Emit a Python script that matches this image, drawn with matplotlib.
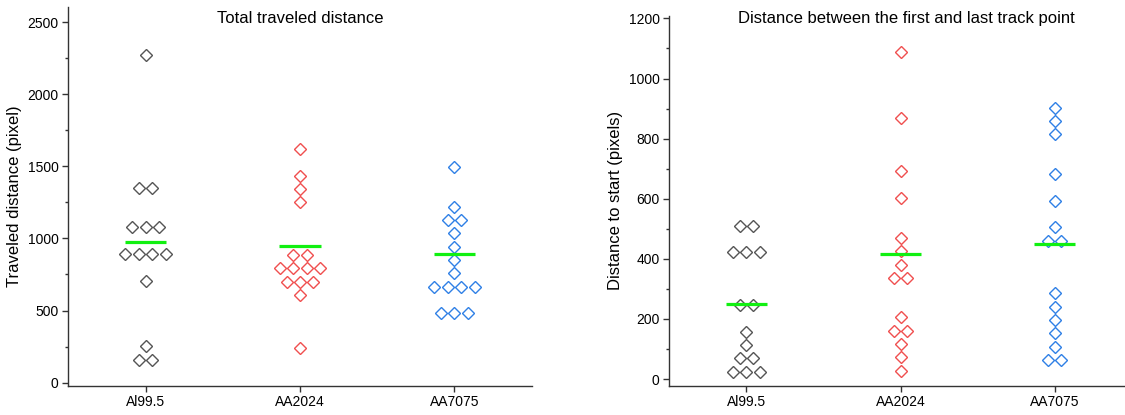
import numpy as np
import matplotlib
matplotlib.use("Agg")
import matplotlib.pyplot as plt
from matplotlib.ticker import MultipleLocator

plt.rcParams['font.family'] = ['Liberation Sans', 'DejaVu Sans']

alloys = ["Al99.5", "AA2024", "AA7075"]
colors = ["#555555", "#f04f4f", "#2f80e6"]
mean_color = "#11f011"

# Total traveled distance (pixel)
travel_al995 = [2274, 1350, 1350, 1076, 1076, 1076, 891, 891, 891, 891, 706, 254, 157, 157]
travel_aa2024 = [1618, 1434, 1341, 1249, 884, 884, 792, 792, 792, 792, 699, 699, 699, 607, 238]
travel_aa7075 = [1496, 1219, 1127, 1127, 1035, 942, 850, 758, 665, 665, 665, 665, 481, 481, 481]
travel_means = [974, 947, 889]

# Distance between first and last track point (pixels)
start_al995 = [510, 510, 423, 423, 423, 246, 246, 157, 113, 69, 69, 24, 24, 24]
start_aa2024 = [1089, 867, 692, 603, 470, 426, 381, 337, 337, 205, 161, 161, 116, 72, 28]
start_aa7075 = [902, 858, 814, 681, 592, 506, 461, 461, 285, 241, 196, 152, 107, 63, 63]
start_means = [250, 416, 448]

STEP = 0.0866      # horizontal spacing of points sharing a value
HALF_MEAN = 0.134  # half width of the mean bar


def swarm(ax, groups, means):
    for i, (vals, col) in enumerate(zip(groups, colors)):
        vals = np.asarray(vals, dtype=float)
        xs = np.empty_like(vals)
        for v in np.unique(vals):
            idx = np.where(vals == v)[0]
            n = len(idx)
            xs[idx] = i + (np.arange(n) - (n - 1) / 2) * STEP
        ax.plot(xs, vals, linestyle="none", marker="D", markersize=6.6,
                markerfacecolor="none", markeredgecolor=col, markeredgewidth=1.0,
                zorder=3)
        ax.plot([i - HALF_MEAN, i + HALF_MEAN], [means[i], means[i]],
                color=mean_color, linewidth=2.3, solid_capstyle="butt", zorder=4)


def style(ax, ylabel, major, minor):
    for s in ["top", "right"]:
        ax.spines[s].set_visible(False)
    for s in ["left", "bottom"]:
        ax.spines[s].set_color("#333333")
        ax.spines[s].set_linewidth(1.0)
    ax.set_xlim(-0.5, 2.5)
    ax.set_xticks(range(3))
    ax.set_xticklabels(alloys)
    ax.yaxis.set_major_locator(MultipleLocator(major))
    ax.yaxis.set_minor_locator(MultipleLocator(minor))
    ax.tick_params(axis="both", which="major", direction="out", length=4,
                   width=1.0, color="#333333", labelsize=10, pad=3)
    ax.tick_params(axis="y", which="minor", direction="out", length=2.5,
                   width=1.0, color="#333333")
    ax.set_ylabel(ylabel, fontsize=12, labelpad=4)


fig = plt.figure(figsize=(11.25, 4.15), dpi=100)
ax1 = fig.add_axes([0.0607, 0.0706, 0.4119, 0.9125])
ax2 = fig.add_axes([0.5949, 0.0706, 0.4111, 0.8916])

swarm(ax1, [travel_al995, travel_aa2024, travel_aa7075], travel_means)
style(ax1, "Traveled distance (pixel)", 500, 250)
ax1.set_ylim(-21, 2604)
ax1.text(0.5, 0.970, "Total traveled distance", transform=ax1.transAxes,
         ha="center", va="center", fontsize=12)

swarm(ax2, [start_al995, start_aa2024, start_aa7075], start_means)
style(ax2, "Distance to start (pixels)", 200, 100)
ax2.set_ylim(-22, 1209)
fig.text(906 / 1125, 1 - 18 / 415, "Distance between the first and last track point",
         ha="center", va="center", fontsize=12)

fig.savefig("out.png", dpi=100)
